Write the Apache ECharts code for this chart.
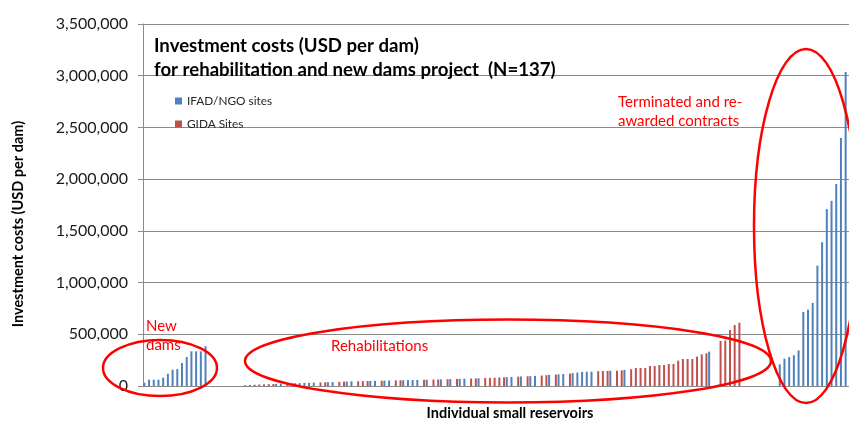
<!DOCTYPE html>
<html><head><meta charset="utf-8">
<script src="https://cdn.jsdelivr.net/npm/echarts@6/dist/echarts.min.js"></script>
<style>html,body{margin:0;padding:0;background:#fff}#c{width:849px;height:421px}</style>
</head><body><div id="c"></div>
<script>
// ---- data ----
const yTicks = [0, 500000, 1000000, 1500000, 2000000, 2500000, 3000000, 3500000];
// New dams (IFAD/NGO sites), sorted
const newDamsValues = [32000, 61000, 61000, 61000, 80000, 119000, 158000, 164000, 222000, 280000, 335000, 335000, 335000, 384000];
// Rehabilitations: values and source (I = IFAD/NGO, G = GIDA, - = empty slot)
const rehabValues = [
  8000, 10000, 12000, 14000, 16000, 18000, 19000, 21000, 22000, 24000,
  25000, 27000, 28000, 30000, 31000, 33000, 34000, 36000, 37000, 39000,
  40000, 42000, 43000, 45000, 46000, 47000, 48000, 49000, 50000, 51000,
  52000, 53000, 54000, 55000, 56000, 57000, 58000, 59000, 60000, 61000,
  62000, 63000, 64000, 66000, 67000, 68000, 69000, 70000, 72000, 73000,
  75000, 77000, 78000, 80000, 82000, 84000, 86000, 88000, 90000, 92000,
  94000, 96000, 98000, 101000, 104000, 107000, 110000, 113000, 116000, 120000,
  124000, 130000, 136000, 138000, 139000, 144000, 145000, 146000, 148000, 148000,
  151000, 156000, 162000, 174000, 174000, 174000, 193000, 193000, 203000, 203000,
  213000, 213000, 245000, 261000, 261000, 261000, 284000, 306000, 316000, 332000,
  null, 435000, 440000, 541000, 590000, 612000
];
const rehabSource =
  "GGGGGGGIIGGIIIIIGGIIG" +
  "GIIGGGIIGIIGGIIIIGIGGIGIGIIGGIGGGGGIIGIGIIGGIGIIGIIIIIGGGIGGIGGGGGGGGGGGGGGGGGI-GGGGG";
// Terminated and re-awarded contracts (IFAD/NGO sites)
const terminatedValues = [210000, 264000, 280000, 297000, 345000, 716000, 738000, 803000, 1163000, 1390000, 1710000, 1790000, 1953000, 2398000, 3036000];
const emptyAfterNewDams = 7;
const emptyAfterRehab = 8;

// ---- build category slots ----
const ifad = [], gida = [];
function pushSlot(v, src) {
  ifad.push(src === 'I' ? v : null);
  gida.push(src === 'G' ? v : null);
}
newDamsValues.forEach(v => pushSlot(v, 'I'));
for (let i = 0; i < emptyAfterNewDams; i++) pushSlot(null, '-');
rehabValues.forEach((v, i) => pushSlot(v, rehabSource[i]));
for (let i = 0; i < emptyAfterRehab; i++) pushSlot(null, '-');
terminatedValues.forEach(v => pushSlot(v, 'I'));
const categories = ifad.map((_, i) => String(i + 1));

function fmt(v) { return String(v).replace(/\B(?=(\d{3})+(?!\d))/g, ','); }

const FONT = 'Lato';
const RED = '#ff0000';
const chart = echarts.init(document.getElementById('c'), null, {renderer: 'canvas'});
chart.setOption({
  animation: false,
  backgroundColor: '#ffffff',
  textStyle: {fontFamily: FONT},
  title: {
    text: 'Investment costs (USD per dam)\nfor rehabilitation and new dams project  (N=137)',
    left: 149, top: 29,
    textStyle: {fontFamily: FONT, fontSize: 18.6, fontWeight: 'bold', color: '#000', lineHeight: 24}
  },
  legend: {
    orient: 'vertical', left: 170, top: 90,
    itemWidth: 7, itemHeight: 7, itemGap: 11, icon: 'rect',
    textStyle: {fontFamily: FONT, fontSize: 11.8, color: '#262626'},
    data: ['IFAD/NGO sites', 'GIDA Sites']
  },
  grid: {left: 143, top: 24, width: 706, height: 362, containLabel: false},
  xAxis: {
    type: 'category', data: categories, boundaryGap: true,
    axisLine: {show: true, lineStyle: {color: '#8a8a8a', width: 1}},
    axisTick: {show: false}, axisLabel: {show: false}, splitLine: {show: false}
  },
  yAxis: {
    type: 'value', min: yTicks[0], max: yTicks[yTicks.length - 1], interval: 500000,
    axisLine: {show: true, lineStyle: {color: '#8a8a8a', width: 1}},
    axisTick: {show: true, length: 5, lineStyle: {color: '#8a8a8a'}},
    axisLabel: {formatter: fmt, fontFamily: FONT, fontSize: 16, color: '#1a1a1a', margin: 15},
    splitLine: {show: true, lineStyle: {color: '#8a8a8a', width: 1}}
  },
  series: [
    {name: 'IFAD/NGO sites', type: 'bar', data: ifad, barWidth: 2, barGap: '0%', itemStyle: {color: '#4f81bd'}},
    {name: 'GIDA Sites', type: 'bar', data: gida, barWidth: 2, barGap: '0%', itemStyle: {color: '#c0504d'}}
  ],
  graphic: [
    {type: 'text', x: 18, y: 224, rotation: Math.PI / 2, z: 10,
     style: {text: 'Investment costs (USD per dam)', fill: '#000', font: 'bold 14.5px ' + FONT, textAlign: 'center', textVerticalAlign: 'middle'}},
    {type: 'text', x: 510, y: 413, z: 10,
     style: {text: 'Individual small reservoirs', fill: '#000', font: 'bold 14.5px ' + FONT, textAlign: 'center', textVerticalAlign: 'middle'}},
    {type: 'text', x: 146, y: 317, z: 10,
     style: {text: 'New\ndams', fill: RED, font: '15px ' + FONT, lineHeight: 19}},
    {type: 'text', x: 331, y: 339, z: 10,
     style: {text: 'Rehabilitations', fill: RED, font: '15px ' + FONT}},
    {type: 'text', x: 618, y: 93, z: 10,
     style: {text: 'Terminated and re-\nawarded contracts', fill: RED, font: '15px ' + FONT, lineHeight: 19}},
    {type: 'ellipse', z: 20, shape: {cx: 160, cy: 368, rx: 57, ry: 28},
     style: {fill: 'none', stroke: RED, lineWidth: 2.5}},
    {type: 'ellipse', z: 20, shape: {cx: 508, cy: 361, rx: 263, ry: 41.5},
     style: {fill: 'none', stroke: RED, lineWidth: 2.5}},
    {type: 'ellipse', z: 20, shape: {cx: 806, cy: 226, rx: 52, ry: 177},
     style: {fill: 'none', stroke: RED, lineWidth: 2.5}}
  ]
});
</script></body></html>
